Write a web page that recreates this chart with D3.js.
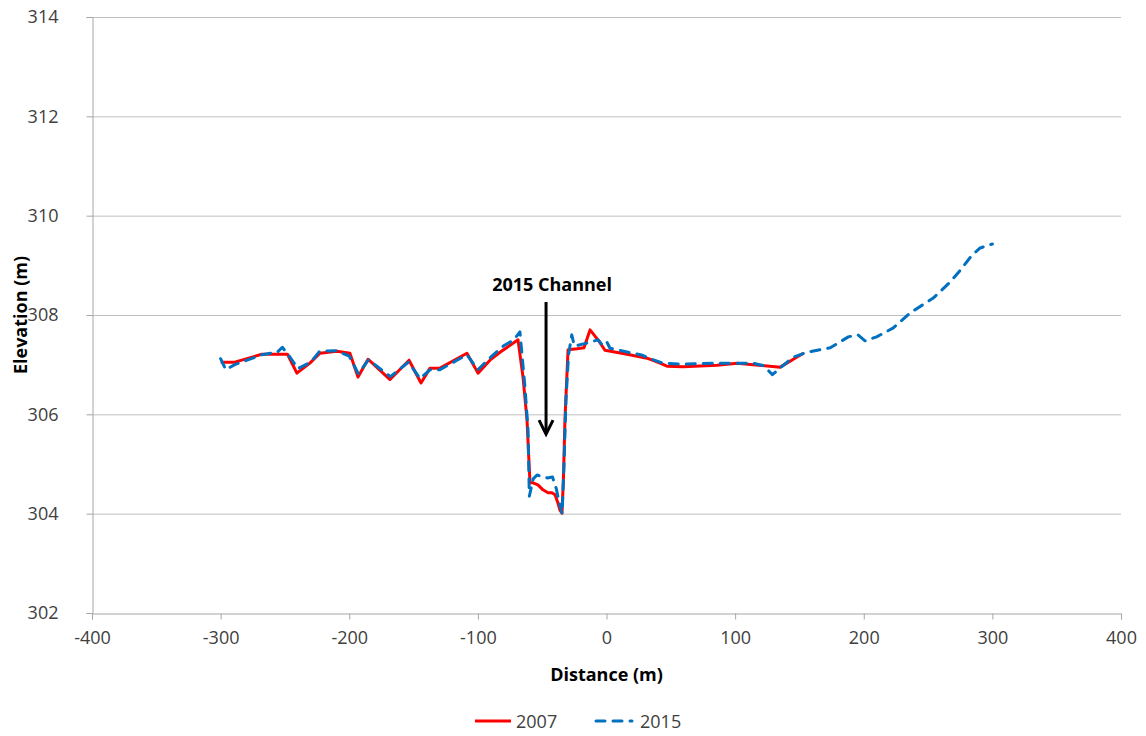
<!DOCTYPE html>
<html><head><meta charset="utf-8">
<script src="https://cdn.jsdelivr.net/npm/d3@7"></script>
<style>body{margin:0;background:#fff;} text{font-family:"Open Sans","Liberation Sans",sans-serif;}</style>
</head><body>
<svg id="chart" width="1146" height="736"></svg>
<script>
const dist2007 = [-300,-289,-268,-248,-240.7,-230.6,-222.8,-209.6,-199.5,-193.2,-185.4,-168.3,-153.5,-144.2,-137.2,-129.5,-108.5,-99.9,-90.6,-82.8,-68.8,-64.9,-61.8,-59.5,-57.1,-53.3,-49.4,-45.5,-42.4,-40,-37.7,-36.2,-34.6,-33.5,-32.3,-29.9,-22.9,-17.5,-12.8,-6,-1.2,16,31.5,41.6,47,59.5,86,101.5,135,153];
const elev2007 = [307.05,307.05,307.21,307.21,306.83,307.03,307.23,307.27,307.23,306.75,307.11,306.7,307.09,306.63,306.93,306.93,307.23,306.83,307.09,307.25,307.5,306.75,305.89,304.62,304.62,304.58,304.48,304.42,304.42,304.38,304.21,304.07,304.01,304.7,305.89,307.3,307.32,307.34,307.7,307.48,307.29,307.21,307.13,307.03,306.97,306.96,306.99,307.03,306.95,307.23];
const dist2015 = [-300,-296,-289,-268,-256,-252,-246,-240,-230,-223,-210,-200,-193,-185,-168,-154,-145,-137,-129.5,-108.5,-100,-90,-80,-72,-67.3,-63.4,-61,-60,-57,-54,-50,-46,-42,-39,-37,-34.5,-33,-31.5,-29.5,-27,-25,-20.6,-14.4,-6.6,-2.7,0.4,2.7,28,32,44,59.5,83,104,114,122,129,145,156,174,188,195.5,201,210,223,236,254,267,275,284,290.5,300];
const elev2015 = [307.12,306.9,307.0,307.2,307.25,307.35,307.15,306.92,307.05,307.27,307.28,307.17,306.82,307.1,306.76,307.05,306.72,306.9,306.9,307.2,306.9,307.15,307.38,307.5,307.66,306.55,305.68,304.35,304.7,304.78,304.74,304.72,304.74,304.5,304.25,304.0,305.0,306.3,307.2,307.6,307.38,307.4,307.44,307.5,307.38,307.45,307.33,307.19,307.14,307.03,307.01,307.03,307.03,307.03,306.98,306.8,307.15,307.25,307.34,307.56,307.6,307.48,307.56,307.74,308.04,308.34,308.66,308.9,309.2,309.35,309.43];
const xTicks = [-400,-300,-200,-100,0,100,200,300,400];
const yTicks = [302,304,306,308,310,312,314];
const seriesNames = ["2007","2015"];
const annotation = {label:"2015 Channel", x:-47, yTop:308.02, yTip:305.6};

const svg = d3.select("#chart");
const L=92, R=1121, T=17, B=613;
const x = d3.scaleLinear().domain([-400,400]).range([L,R]);
const y = d3.scaleLinear().domain([302,314]).range([B,T]);
const grid = "#bfbfbf", axisC = "#a6a6a6";
const FS = 18;

svg.append("g").selectAll("line").data(yTicks.filter(d=>d>302)).join("line")
  .attr("x1",L).attr("x2",R).attr("y1",d=>y(d)+0.5).attr("y2",d=>y(d)+0.5)
  .attr("stroke",grid).attr("stroke-width",1);

const ya = svg.append("g").attr("transform",`translate(${L+0.5},0)`)
  .call(d3.axisLeft(y).tickValues(yTicks).tickSize(6).tickPadding(28).tickFormat(d3.format("d")));
ya.select(".domain").attr("stroke",axisC);
ya.selectAll(".tick line").attr("stroke",axisC);
ya.selectAll(".tick text").attr("font-size",FS).attr("fill","#404040").attr("font-family","Open Sans").attr("dx",0);

const xa = svg.append("g").attr("transform",`translate(0,${B+0.5})`)
  .call(d3.axisBottom(x).tickValues(xTicks).tickSize(6).tickPadding(12).tickFormat(d3.format("d")));
xa.select(".domain").attr("stroke",axisC);
xa.selectAll(".tick line").attr("stroke",axisC);
xa.selectAll(".tick text").attr("font-size",FS).attr("fill","#404040").attr("font-family","Open Sans");
xa.selectAll(".tick text").text(d=> d<0 ? "-"+Math.abs(d) : d);

svg.append("text").attr("x",(L+R)/2).attr("y",681).attr("text-anchor","middle")
  .attr("font-weight","bold").attr("font-size",FS).attr("fill","#000").text("Distance (m)");
svg.append("text").attr("transform",`translate(27,${(T+B)/2}) rotate(-90)`).attr("text-anchor","middle")
  .attr("font-weight","bold").attr("font-size",FS).attr("fill","#000").text("Elevation (m)");

const line = d3.line().x(d=>x(d[0])).y(d=>y(d[1]));
const d07 = dist2007.map((d,i)=>[d,elev2007[i]]);
const d15 = dist2015.map((d,i)=>[d,elev2015[i]]);
svg.append("path").datum(d07).attr("d",line).attr("fill","none").attr("stroke","#ff0000")
  .attr("stroke-width",3).attr("stroke-linejoin","round");
svg.append("path").datum(d15).attr("d",line).attr("fill","none").attr("stroke","#0070c0")
  .attr("stroke-width",3).attr("stroke-dasharray","9,8").attr("stroke-linecap","round").attr("stroke-linejoin","round");

const ax = x(annotation.x);
svg.append("text").attr("x",ax+6).attr("y",y(annotation.yTop)-23).attr("text-anchor","middle")
  .attr("font-weight","bold").attr("font-size",FS).attr("fill","#000").text(annotation.label);
svg.append("line").attr("x1",ax).attr("x2",ax).attr("y1",y(annotation.yTop)-12).attr("y2",y(annotation.yTip)-2)
  .attr("stroke","#000").attr("stroke-width",3);
svg.append("path").attr("d",`M${ax-7},${y(annotation.yTip)-14} L${ax},${y(annotation.yTip)} L${ax+7},${y(annotation.yTip)-14}`)
  .attr("fill","none").attr("stroke","#000").attr("stroke-width",3);

const lg = svg.append("g");
lg.append("line").attr("x1",475).attr("x2",511).attr("y1",721).attr("y2",721).attr("stroke","#ff0000").attr("stroke-width",3);
lg.append("text").attr("x",516).attr("y",728).attr("font-size",FS).attr("fill","#404040").text(seriesNames[0]);
lg.append("line").attr("x1",596).attr("x2",632).attr("y1",721).attr("y2",721).attr("stroke","#0070c0").attr("stroke-width",3)
  .attr("stroke-dasharray","9,8").attr("stroke-linecap","round");
lg.append("text").attr("x",640).attr("y",728).attr("font-size",FS).attr("fill","#404040").text(seriesNames[1]);
</script>
</body></html>
